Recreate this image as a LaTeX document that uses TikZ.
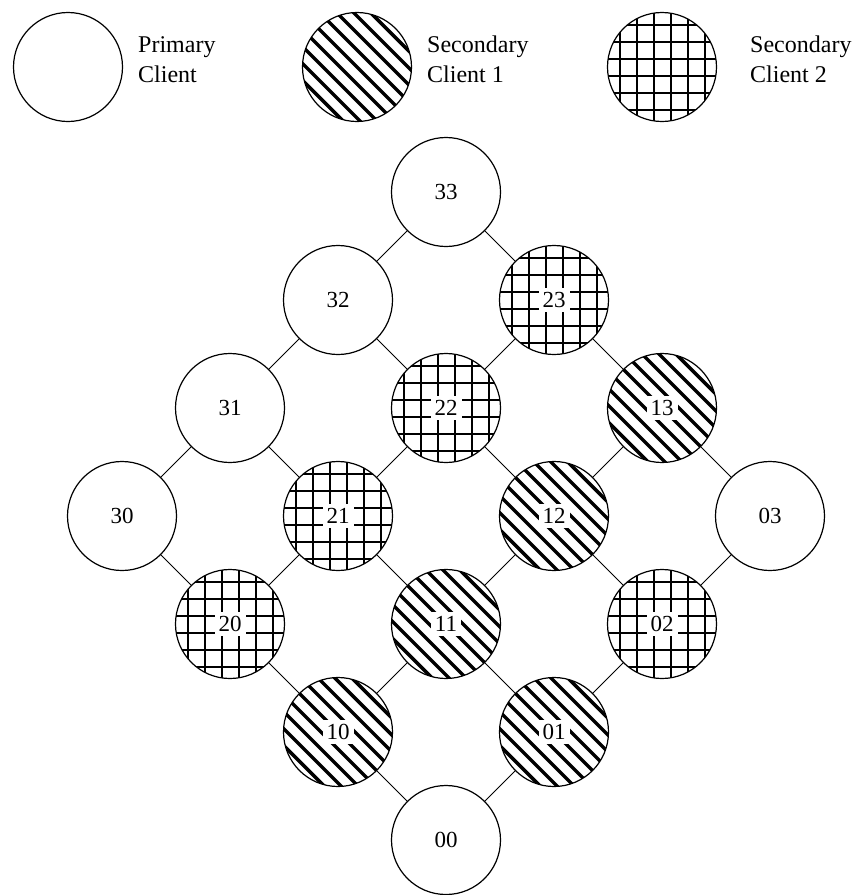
\documentclass[tikz,border=0pt]{standalone}
\usepackage{fontspec}
\setmainfont{Liberation Serif}
\newcommand{\wbox}[1]{{\setlength{\fboxsep}{4pt}\colorbox{white}{#1}}}
\tikzset{
  circ/.style={circle, draw=black, line width=1.2pt, minimum size=109pt, inner sep=0pt,
    font=\fontsize{23}{27}\selectfont},
  prim/.style={circ, fill=white},
  secone/.style={circ, fill=white, path picture={
    \foreach \k in {-5,...,5}
      \draw[line width=3.4pt]
        ([shift={(\k*8.485-70,-\k*8.485-70)}]path picture bounding box.center) --
        ([shift={(\k*8.485+70,-\k*8.485+70)}]path picture bounding box.center);
  }},
  sectwo/.style={circ, fill=white, path picture={
    \foreach \k in {-42.5,-25.5,-8.5,8.5,25.5,42.5} {
      \draw[line width=2pt]
        ([shift={(\k,-60)}]path picture bounding box.center) --
        ([shift={(\k,60)}]path picture bounding box.center);
      \draw[line width=2pt]
        ([shift={(-60,\k)}]path picture bounding box.center) --
        ([shift={(60,\k)}]path picture bounding box.center);
    }
  }},
  legtext/.style={align=left, inner sep=0pt, font=\fontsize{24}{30}\selectfont},
  conn/.style={line width=1pt}
}
\begin{document}
\begin{tikzpicture}[x=1pt,y=-1pt]
\useasboundingbox (0,0) rectangle (856,895);
% legend
\node[prim] (lp) at (68,67) {};
\node[legtext, anchor=base west] (tp) at (138,82) {Primary\\Client};
\node[secone] (ls1) at (357,67) {};
\node[legtext, anchor=base west] (ts1) at (427,82) {Secondary\\Client 1};
\node[sectwo] (ls2) at (662,67) {};
\node[legtext, anchor=base west] (ts2) at (750,82) {Secondary\\Client 2};
% lattice
\node[prim] (n33) at (446,192) {33};
\node[prim] (n32) at (338,300) {32};
\node[sectwo] (n23) at (554,300) {\wbox{23}};
\node[prim] (n31) at (230,408) {31};
\node[sectwo] (n22) at (446,408) {\wbox{22}};
\node[secone] (n13) at (662,408) {\wbox{13}};
\node[prim] (n30) at (122,516) {30};
\node[sectwo] (n21) at (338,516) {\wbox{21}};
\node[secone] (n12) at (554,516) {\wbox{12}};
\node[prim] (n03) at (770,516) {03};
\node[sectwo] (n20) at (230,624) {\wbox{20}};
\node[secone] (n11) at (446,624) {\wbox{11}};
\node[sectwo] (n02) at (662,624) {\wbox{02}};
\node[secone] (n10) at (338,732) {\wbox{10}};
\node[secone] (n01) at (554,732) {\wbox{01}};
\node[prim] (n00) at (446,840) {00};
% connectors
\foreach \a/\b in {n33/n32,n33/n23,n32/n31,n32/n22,n23/n22,n23/n13,
  n31/n30,n31/n21,n22/n21,n22/n12,n13/n12,n13/n03,
  n30/n20,n21/n20,n21/n11,n12/n11,n12/n02,n03/n02,
  n20/n10,n11/n10,n11/n01,n02/n01,n10/n00,n01/n00}
  \draw[conn] (\a) -- (\b);
\end{tikzpicture}
\end{document}
